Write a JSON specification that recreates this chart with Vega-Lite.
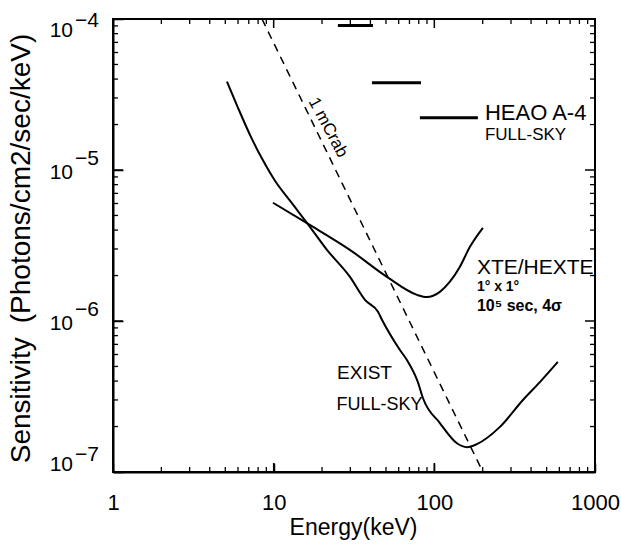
{
  "$schema": "https://vega.github.io/schema/vega-lite/v6.json",
  "autosize": "none",
  "width": 482,
  "height": 453,
  "padding": {"left": 113, "top": 19, "right": 26, "bottom": 76},
  "background": "white",
  "config": {
    "view": {"stroke": "black", "strokeWidth": 2},
    "font": "Liberation Sans",
    "text": {"color": "black", "font": "Liberation Sans"}
  },
  "datasets": {
    "exist": [
      {"E": 5.12, "S": 3.85e-5}, {"E": 5.99, "S": 2.59e-5}, {"E": 7.12, "S": 1.71e-5},
      {"E": 8.46, "S": 1.19e-5}, {"E": 10.19, "S": 8.49e-6}, {"E": 12.63, "S": 6.26e-6},
      {"E": 16.11, "S": 4.47e-6}, {"E": 21.46, "S": 2.96e-6},
      {"E": 29.85, "S": 1.96e-6}, {"E": 37.0, "S": 1.38e-6}, {"E": 44.6, "S": 1.15e-6},
      {"E": 47.2, "S": 1.02e-6}, {"E": 61.1, "S": 6.43e-7}, {"E": 67.5, "S": 5.52e-7},
      {"E": 79.0, "S": 3.94e-7}, {"E": 84.9, "S": 3.09e-7}, {"E": 108.3, "S": 2.11e-7},
      {"E": 138.3, "S": 1.55e-7}, {"E": 159.6, "S": 1.46e-7}, {"E": 184, "S": 1.53e-7},
      {"E": 256, "S": 1.99e-7}, {"E": 356, "S": 3.0e-7}, {"E": 454, "S": 3.94e-7},
      {"E": 587, "S": 5.36e-7}
    ],
    "xte": [
      {"E": 9.9, "S": 6.07e-6}, {"E": 16.3, "S": 4.41e-6}, {"E": 29.8, "S": 2.96e-6},
      {"E": 50.7, "S": 1.96e-6}, {"E": 78.0, "S": 1.49e-6}, {"E": 89.9, "S": 1.44e-6},
      {"E": 108.3, "S": 1.56e-6}, {"E": 125, "S": 1.82e-6}, {"E": 144, "S": 2.28e-6},
      {"E": 166.6, "S": 3.10e-6}, {"E": 200.6, "S": 4.14e-6}
    ],
    "crab": [{"E": 8.46, "S": 1e-4}, {"E": 200.6, "S": 1e-7}],
    "heao": [
      {"E1": 25.1, "E2": 41.5, "S": 9.06e-5},
      {"E1": 40.9, "E2": 82.6, "S": 3.79e-5},
      {"E1": 81.3, "E2": 186.7, "S": 2.22e-5}
    ],
    "ylab": [
      {"S": 1e-4, "k": -4, "exp": "−4"},
      {"S": 1e-5, "k": -5, "exp": "−5"},
      {"S": 1e-6, "k": -6, "exp": "−6"},
      {"S": 1e-7, "k": -7, "exp": "−7"}
    ],
    "xmaj": [{"v": 10}, {"v": 100}],
    "xmin": [{"v": 2}, {"v": 3}, {"v": 4}, {"v": 5}, {"v": 6}, {"v": 7}, {"v": 8}, {"v": 9},
      {"v": 20}, {"v": 30}, {"v": 40}, {"v": 50}, {"v": 60}, {"v": 70}, {"v": 80}, {"v": 90},
      {"v": 200}, {"v": 300}, {"v": 400}, {"v": 500}, {"v": 600}, {"v": 700}, {"v": 800}, {"v": 900}],
    "ymaj": [{"v": 1e-6}, {"v": 1e-5}],
    "ymin": [{"v": 2e-7}, {"v": 3e-7}, {"v": 4e-7}, {"v": 5e-7}, {"v": 6e-7}, {"v": 7e-7}, {"v": 8e-7}, {"v": 9e-7},
      {"v": 2e-6}, {"v": 3e-6}, {"v": 4e-6}, {"v": 5e-6}, {"v": 6e-6}, {"v": 7e-6}, {"v": 8e-6}, {"v": 9e-6},
      {"v": 2e-5}, {"v": 3e-5}, {"v": 4e-5}, {"v": 5e-5}, {"v": 6e-5}, {"v": 7e-5}, {"v": 8e-5}, {"v": 9e-5}]
  },
  "resolve": {"axis": {"x": "independent", "y": "independent"}},
  "layer": [
    {
      "data": {"name": "exist"},
      "mark": {"type": "line", "color": "black", "strokeWidth": 2, "interpolate": "monotone"},
      "encoding": {
        "x": {"field": "E", "type": "quantitative", "scale": {"type": "log", "domain": [1, 1000]},
          "axis": {"orient": "bottom", "values": [1, 10, 100, 1000], "format": "d", "gridOpacity": 0, "domainColor": "black", "domainWidth": 2, "tickColor": "black", "tickWidth": 1.5, "tickSize": -9,
            "labelFont": "Liberation Sans", "labelColor": "black", "labelFontSize": 22, "labelPadding": 29, "labelFlush": false,
            "title": "Energy(keV)", "titleFont": "Liberation Sans", "titleColor": "black", "titleFontWeight": "normal", "titleFontSize": 23, "titleX": 240, "titleY": 62, "titleBaseline": "alphabetic", "titleAlign": "center"}},
        "y": {"field": "S", "type": "quantitative", "scale": {"type": "log", "domain": [1e-7, 1e-4]},
          "axis": {"orient": "left", "values": [1e-7, 1e-6, 1e-5, 1e-4], "gridOpacity": 0, "domainColor": "black", "domainWidth": 2, "tickColor": "black", "tickWidth": 1.5, "tickSize": -10, "labels": false,
            "title": "Sensitivity\u2002(Photons/cm2/sec/keV)", "titleFont": "Liberation Sans", "titleColor": "black", "titleFontWeight": "normal", "titleFontSize": 28, "titleAngle": -90, "titleX": -84, "titleY": 229, "titleBaseline": "alphabetic", "titleAlign": "center"}}
      }
    },
    {
      "data": {"name": "xte"},
      "mark": {"type": "line", "color": "black", "strokeWidth": 2, "interpolate": "monotone"},
      "encoding": {
        "x": {"field": "E", "type": "quantitative", "axis": null},
        "y": {"field": "S", "type": "quantitative", "axis": null}
      }
    },
    {
      "data": {"name": "crab"},
      "mark": {"type": "line", "color": "black", "strokeWidth": 1.5, "strokeDash": [8, 6]},
      "encoding": {
        "x": {"field": "E", "type": "quantitative", "axis": null},
        "y": {"field": "S", "type": "quantitative", "axis": null}
      }
    },
    {
      "data": {"name": "heao"},
      "mark": {"type": "rule", "color": "black", "strokeWidth": 3},
      "encoding": {
        "x": {"field": "E1", "type": "quantitative", "axis": null},
        "x2": {"field": "E2"},
        "y": {"field": "S", "type": "quantitative", "axis": null}
      }
    },
    {
      "data": {"name": "xmaj"},
      "mark": {"type": "rule", "color": "black", "strokeWidth": 1.5},
      "encoding": {
        "x": {"field": "v", "type": "quantitative", "axis": null},
        "y": {"datum": 1e-7, "type": "quantitative", "axis": null},
        "y2": {"datum": 1.147e-7}
      }
    },
    {
      "data": {"name": "xmaj"},
      "mark": {"type": "rule", "color": "black", "strokeWidth": 1.5},
      "encoding": {
        "x": {"field": "v", "type": "quantitative", "axis": null},
        "y": {"datum": 1e-4, "type": "quantitative", "axis": null},
        "y2": {"datum": 8.72e-5}
      }
    },
    {
      "data": {"name": "xmin"},
      "mark": {"type": "rule", "color": "black", "strokeWidth": 1.3},
      "encoding": {
        "x": {"field": "v", "type": "quantitative", "axis": null},
        "y": {"datum": 1e-7, "type": "quantitative", "axis": null},
        "y2": {"datum": 1.079e-7}
      }
    },
    {
      "data": {"name": "xmin"},
      "mark": {"type": "rule", "color": "black", "strokeWidth": 1.3},
      "encoding": {
        "x": {"field": "v", "type": "quantitative", "axis": null},
        "y": {"datum": 1e-4, "type": "quantitative", "axis": null},
        "y2": {"datum": 9.27e-5}
      }
    },
    {
      "data": {"name": "ymaj"},
      "mark": {"type": "rule", "color": "black", "strokeWidth": 1.5},
      "encoding": {
        "y": {"field": "v", "type": "quantitative", "axis": null},
        "x": {"datum": 1, "type": "quantitative", "axis": null},
        "x2": {"datum": 1.154}
      }
    },
    {
      "data": {"name": "ymaj"},
      "mark": {"type": "rule", "color": "black", "strokeWidth": 1.5},
      "encoding": {
        "y": {"field": "v", "type": "quantitative", "axis": null},
        "x": {"datum": 1000, "type": "quantitative", "axis": null},
        "x2": {"datum": 866.5}
      }
    },
    {
      "data": {"name": "ymin"},
      "mark": {"type": "rule", "color": "black", "strokeWidth": 1.3},
      "encoding": {
        "y": {"field": "v", "type": "quantitative", "axis": null},
        "x": {"datum": 1, "type": "quantitative", "axis": null},
        "x2": {"datum": 1.074}
      }
    },
    {
      "data": {"name": "ymin"},
      "mark": {"type": "rule", "color": "black", "strokeWidth": 1.3},
      "encoding": {
        "y": {"field": "v", "type": "quantitative", "axis": null},
        "x": {"datum": 1000, "type": "quantitative", "axis": null},
        "x2": {"datum": 931}
      }
    },
    {
      "data": {"name": "ylab"},
      "mark": {"type": "text", "text": "10", "fontSize": 21, "align": "right", "baseline": "middle", "dx": -40,
        "dy": {"expr": "datum.k == -4 ? 11.5 : (datum.k == -7 ? -7 : 3)"}},
      "encoding": {
        "x": {"datum": 1, "type": "quantitative", "axis": null},
        "y": {"field": "S", "type": "quantitative", "axis": null}
      }
    },
    {
      "data": {"name": "ylab"},
      "mark": {"type": "text", "fontSize": 21, "align": "left", "baseline": "middle", "dx": -38,
        "dy": {"expr": "datum.k == -4 ? 1.5 : (datum.k == -7 ? -17 : -11)"}},
      "encoding": {
        "x": {"datum": 1, "type": "quantitative", "axis": null},
        "y": {"field": "S", "type": "quantitative", "axis": null},
        "text": {"field": "exp"}
      }
    },
    {
      "data": {"values": [{"E": 206.5, "S": 2.4e-5, "t": "HEAO A-4"}]},
      "mark": {"type": "text", "fontSize": 22, "align": "left", "baseline": "middle"},
      "encoding": {"x": {"field": "E", "type": "quantitative", "axis": null}, "y": {"field": "S", "type": "quantitative", "axis": null}, "text": {"field": "t"}}
    },
    {
      "data": {"values": [{"E": 206.5, "S": 1.7e-5, "t": "FULL-SKY"}]},
      "mark": {"type": "text", "fontSize": 17, "align": "left", "baseline": "middle"},
      "encoding": {"x": {"field": "E", "type": "quantitative", "axis": null}, "y": {"field": "S", "type": "quantitative", "axis": null}, "text": {"field": "t"}}
    },
    {
      "data": {"values": [{"E": 184, "S": 2.25e-6, "t": "XTE/HEXTE"}]},
      "mark": {"type": "text", "fontSize": 21, "align": "left", "baseline": "middle"},
      "encoding": {"x": {"field": "E", "type": "quantitative", "axis": null}, "y": {"field": "S", "type": "quantitative", "axis": null}, "text": {"field": "t"}}
    },
    {
      "data": {"values": [{"E": 184, "S": 1.68e-6, "t": "1° x 1°"}]},
      "mark": {"type": "text", "fontSize": 14, "fontWeight": "bold", "align": "left", "baseline": "middle"},
      "encoding": {"x": {"field": "E", "type": "quantitative", "axis": null}, "y": {"field": "S", "type": "quantitative", "axis": null}, "text": {"field": "t"}}
    },
    {
      "data": {"values": [{"E": 184, "S": 1.26e-6, "t": "10⁵ sec, 4σ"}]},
      "mark": {"type": "text", "fontSize": 16, "fontWeight": "bold", "align": "left", "baseline": "middle"},
      "encoding": {"x": {"field": "E", "type": "quantitative", "axis": null}, "y": {"field": "S", "type": "quantitative", "axis": null}, "text": {"field": "t"}}
    },
    {
      "data": {"values": [{"E": 24.8, "S": 4.53e-7, "t": "EXIST"}]},
      "mark": {"type": "text", "fontSize": 19, "align": "left", "baseline": "middle"},
      "encoding": {"x": {"field": "E", "type": "quantitative", "axis": null}, "y": {"field": "S", "type": "quantitative", "axis": null}, "text": {"field": "t"}}
    },
    {
      "data": {"values": [{"E": 24.6, "S": 2.78e-7, "t": "FULL-SKY"}]},
      "mark": {"type": "text", "fontSize": 18, "align": "left", "baseline": "middle"},
      "encoding": {"x": {"field": "E", "type": "quantitative", "axis": null}, "y": {"field": "S", "type": "quantitative", "axis": null}, "text": {"field": "t"}}
    },
    {
      "data": {"values": [{"E": 21.8, "S": 1.91e-5, "t": "1 mCrab"}]},
      "mark": {"type": "text", "fontSize": 17, "align": "center", "baseline": "middle", "angle": 62},
      "encoding": {"x": {"field": "E", "type": "quantitative", "axis": null}, "y": {"field": "S", "type": "quantitative", "axis": null}, "text": {"field": "t"}}
    }
  ]
}
